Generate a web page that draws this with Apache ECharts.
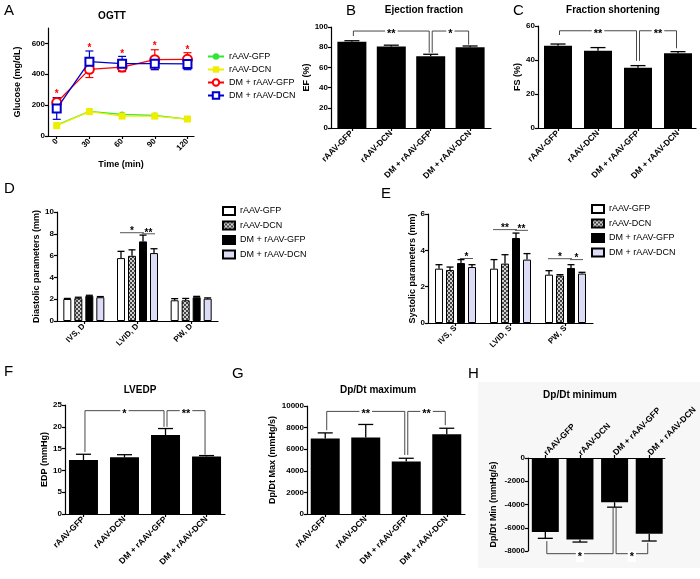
<!DOCTYPE html>
<html><head><meta charset="utf-8">
<script src="https://cdn.jsdelivr.net/npm/echarts@6/dist/echarts.min.js"></script>
<style>html,body{margin:0;padding:0;background:#fff}#c{width:700px;height:579px}</style>
</head><body><div id="c"></div>
<script>
// ---------------- DATA ----------------
const groups = ['rAAV-GFP', 'rAAV-DCN', 'DM + rAAV-GFP', 'DM + rAAV-DCN'];
// A: OGTT
const ogttTime = [0, 30, 60, 90, 120];
const ogttTicksY = [0, 200, 400, 600];
const ogttGfp = [70, 160, 140, 133, 110];
const ogttDcn = [67, 158, 129, 129, 110];
const ogttDmGfp = [217, 432, 447, 495, 497];
const ogttDmGfpSem = [32, 53, 30, 64, 43];
const ogttDmDcn = [178, 482, 469, 469, 467];
const ogttDmDcnSem = [70, 69, 47, 39, 37];
const ogttStarY = [292, 587, 551, 598, 576];
// B: Ejection fraction
const efMean = [85.5, 80.6, 71.1, 79.9];
const efSem = [0.9, 1.4, 1.9, 1.3];
const efBrackets = [[0, 2, 96, 91, 74.5], [2, 3, 96, 74.5, 82.5]];
const efBracketLabels = ['**', '*'];
// C: Fraction shortening
const fsMean = [48.4, 45.5, 35.5, 43.9];
const fsSem = [1.0, 1.8, 1.2, 1.0];
const fsBrackets = [[0, 2, 57.2, 54.7, 39.5], [2, 3, 57.2, 39.5, 46.9]];
const fsBracketLabels = ['**', '**'];
// D: Diastolic
const diaCats = ['IVS, D', 'LVID, D', 'PW, D'];
const diaMeans = [[2.02, 5.77, 1.90], [2.09, 5.98, 1.90], [2.30, 7.30, 2.18], [2.18, 6.23, 2.05]];
const diaSem = [[0.05, 0.62, 0.15], [0.09, 0.55, 0.17], [0.06, 0.58, 0.08], [0.06, 0.40, 0.07]];
const diaSig = [[1, 0, 2, 8.1], [1, 2, 3, 8.0]];
const diaSigLabels = ['*', '**'];
// E: Systolic
const sysCats = ['IVS, S', 'LVID, S', 'PW, S'];
const sysMeans = [[2.99, 2.99, 2.66], [2.92, 3.27, 2.61], [3.30, 4.68, 3.03], [3.08, 3.49, 2.72]];
const sysSem = [[0.22, 0.50, 0.22], [0.16, 0.49, 0.05], [0.19, 0.27, 0.18], [0.13, 0.33, 0.07]];
const sysSig = [[0, 2, 3, 3.55], [1, 0, 2, 5.14], [1, 2, 3, 5.1], [2, 0, 2, 3.54], [2, 2, 3, 3.49]];
const sysSigLabels = ['*', '**', '**', '*', '*'];
// F: LVEDP
const edpMean = [12.4, 13.0, 18.1, 13.2];
const edpSem = [1.3, 0.6, 1.5, 0.2];
const edpBrackets = [[0, 2, 23.7, 14.2, 20.0], [2, 3, 23.7, 20.0, 13.6]];
const edpBracketLabels = ['*', '**'];
// G: Dp/Dt max
const dpMaxMean = [6990, 7090, 4850, 7390];
const dpMaxSem = [520, 1200, 310, 550];
const dpMaxBrackets = [[0, 2, 9500, 7760, 5460], [2, 3, 9500, 5460, 8220]];
const dpMaxBracketLabels = ['**', '**'];
// H: Dp/Dt min
const dpMinMean = [-6370, -7000, -3800, -6510];
const dpMinSem = [540, 230, 430, 630];
const dpMinBrackets = [[0, 2, -8230, -7150, -4300], [2, 3, -8230, -4300, -7300]];
const dpMinBracketLabels = ['*', '*'];

// ---------------- STYLE / HELPERS ----------------
const FF = "Arial, 'Liberation Sans', sans-serif";
const axLine = { show: true, onZero: false, lineStyle: { color: '#000', width: 1.2 } };
const axTick = { show: true, length: 3, lineStyle: { color: '#000', width: 1.2 } };
const tickFont = { fontFamily: FF, fontWeight: 'bold', fontSize: 8, color: '#000' };
const catFont = { fontFamily: FF, fontWeight: 'bold', fontSize: 8.5, color: '#000' };
const nameFont = { fontFamily: FF, fontWeight: 'bold', fontSize: 9, color: '#000' };
const plainNum = v => String(v);

function yAx(grid, min, max, interval, name, nameGap) {
  return { type: 'value', gridIndex: grid, min, max, interval, name, nameLocation: 'middle', nameGap, nameRotate: 90,
    nameTextStyle: nameFont, axisLine: axLine, axisTick: axTick,
    axisLabel: Object.assign({ margin: 3, formatter: plainNum }, tickFont), splitLine: { show: false } };
}
function xGroupAx(grid, min, max, pos, rot) {
  const idx = groups.map((g, i) => i);
  return { type: 'value', gridIndex: grid, min, max, position: pos || 'bottom',
    axisLine: axLine,
    axisTick: Object.assign({ customValues: idx }, axTick),
    axisLabel: Object.assign({ customValues: idx, rotate: rot == null ? 45 : rot, margin: 4, formatter: v => groups[Math.round(v)] }, catFont),
    splitLine: { show: false } };
}
function xCatAx(grid, cats) {
  return { type: 'category', gridIndex: grid, data: cats, axisLine: axLine,
    axisTick: Object.assign({ alignWithLabel: true }, axTick),
    axisLabel: Object.assign({ rotate: 45, margin: 4 }, tickFont) };
}
function barSeries(ax, means, width) {
  return { type: 'bar', xAxisIndex: ax, yAxisIndex: ax, barWidth: width, silent: true,
    itemStyle: { color: '#000' }, data: means.map((v, i) => [i, v]), z: 2 };
}
function errSeries(ax, means, sems, cap) {
  return { type: 'custom', xAxisIndex: ax, yAxisIndex: ax, silent: true, z: 3, clip: false,
    data: means.map((m, i) => [i, m, m + Math.sign(m) * sems[i]]),
    renderItem: (p, api) => {
      const a = api.coord([api.value(0), api.value(1)]), b = api.coord([api.value(0), api.value(2)]);
      const st = { stroke: '#000', lineWidth: 1.3 };
      return { type: 'group', children: [
        { type: 'line', shape: { x1: a[0], y1: a[1], x2: b[0], y2: b[1] }, style: st },
        { type: 'line', shape: { x1: b[0] - cap / 2, y1: b[1], x2: b[0] + cap / 2, y2: b[1] }, style: st }] };
    } };
}
function bracketSeries(ax, list, labels, textDy) {
  return { type: 'custom', xAxisIndex: ax, yAxisIndex: ax, silent: true, z: 4, clip: false,
    data: list,
    renderItem: (p, api) => {
      const i = api.value(0), j = api.value(1), y = api.value(2);
      const p1 = api.coord([i, api.value(3)]), p2 = api.coord([i, y]), p3 = api.coord([j, y]), p4 = api.coord([j, api.value(4)]);
      p1[0] += 1.5; p2[0] += 1.5; p3[0] -= 1.5; p4[0] -= 1.5;
      return { type: 'group', children: [
        { type: 'polyline', shape: { points: [p1, p2, p3, p4] }, style: { stroke: '#333', lineWidth: 0.9, fill: null } },
        { type: 'text', x: (p2[0] + p3[0]) / 2, y: p2[1] + textDy,
          style: { text: labels[p.dataIndex], fill: '#000', font: 'bold 11px ' + FF, align: 'center', verticalAlign: 'middle',
            backgroundColor: '#fff', padding: [0, 2] } }] };
    } };
}
const STEP = 11; // grouped bar spacing (px)
function groupErrSeries(ax, means, sems) {
  const data = [];
  means.forEach((row, k) => row.forEach((m, c) => data.push([c, m, m + sems[k][c], k])));
  return { type: 'custom', xAxisIndex: ax, yAxisIndex: ax, silent: true, z: 3, data,
    renderItem: (p, api) => {
      const off = (api.value(3) - 1.5) * STEP;
      const a = api.coord([api.value(0), api.value(1)]), b = api.coord([api.value(0), api.value(2)]);
      const st = { stroke: '#000', lineWidth: 1.3 };
      return { type: 'group', children: [
        { type: 'line', shape: { x1: a[0] + off, y1: a[1], x2: b[0] + off, y2: b[1] }, style: st },
        { type: 'line', shape: { x1: b[0] + off - 3.5, y1: b[1], x2: b[0] + off + 3.5, y2: b[1] }, style: st }] };
    } };
}
function groupSigSeries(ax, list, labels) {
  return { type: 'custom', xAxisIndex: ax, yAxisIndex: ax, silent: true, z: 4, data: list,
    renderItem: (p, api) => {
      const a = api.coord([api.value(0), api.value(3)]);
      const x1 = a[0] + (api.value(1) - 1.5) * STEP, x2 = a[0] + (api.value(2) - 1.5) * STEP;
      return { type: 'group', children: [
        { type: 'line', shape: { x1: x1 - 1, y1: a[1], x2: x2 + 1, y2: a[1] }, style: { stroke: '#444', lineWidth: 0.9 } },
        { type: 'text', x: (x1 + x2) / 2, y: a[1] + 4, style: { text: labels[p.dataIndex], fill: '#000',
          font: 'bold 10px ' + FF, align: 'center', verticalAlign: 'bottom' } }] };
    } };
}
function makePattern() {
  const c = document.createElement('canvas'); c.width = 4; c.height = 4;
  const g = c.getContext('2d');
  g.fillStyle = '#d0d0d0'; g.fillRect(0, 0, 4, 4);
  g.fillStyle = '#444444'; g.fillRect(0, 0, 2, 2); g.fillRect(2, 2, 2, 2);
  return c;
}
const groupFills = ['#ffffff', { image: makePattern(), repeat: 'repeat' }, '#000000', '#dcdcf6'];
function groupBars(ax, prefix, means) {
  return means.map((row, k) => ({ type: 'bar', name: prefix + '|' + groups[k], xAxisIndex: ax, yAxisIndex: ax,
    barWidth: 8, barGap: '37.5%', silent: true, data: row,
    itemStyle: { color: groupFills[k], borderColor: '#000', borderWidth: 1 } }));
}

// ---------------- OPTION ----------------
const chart = echarts.init(document.getElementById('c'), null, { renderer: 'canvas' });
const aColors = ['#33e633', '#eeee00', '#ff0000', '#0000cc'];
const aSymbols = ['circle', 'rect', 'emptyCircle', 'emptyRect'];
const aSizes = [6, 7, 9, 8];
const aData = [ogttGfp, ogttDcn, ogttDmGfp, ogttDmDcn];

function aErr(means, sems, color) {
  return { type: 'custom', xAxisIndex: 0, yAxisIndex: 0, silent: true, z: 3,
    data: ogttTime.map((t, i) => [t, means[i] - sems[i], means[i] + sems[i]]),
    renderItem: (p, api) => {
      const a = api.coord([api.value(0), api.value(1)]), b = api.coord([api.value(0), api.value(2)]);
      const st = { stroke: color, lineWidth: 1.2 };
      return { type: 'group', children: [
        { type: 'line', shape: { x1: a[0], y1: a[1], x2: b[0], y2: b[1] }, style: st },
        { type: 'line', shape: { x1: a[0] - 4, y1: a[1], x2: a[0] + 4, y2: a[1] }, style: st },
        { type: 'line', shape: { x1: b[0] - 4, y1: b[1], x2: b[0] + 4, y2: b[1] }, style: st }] };
    } };
}

const series = [];
[1, 0, 2, 3].forEach(k => series.push({
  type: 'line', name: 'A|' + groups[k], xAxisIndex: 0, yAxisIndex: 0, silent: true,
  data: ogttTime.map((t, i) => [t, aData[k][i]]), symbol: aSymbols[k], symbolSize: aSizes[k],
  color: aColors[k], lineStyle: { width: 1.3, color: aColors[k] },
  itemStyle: { color: aColors[k], borderColor: aColors[k], borderWidth: k > 1 ? 1.5 : 0 }, z: 5 + k }));
series.push(aErr(ogttDmGfp, ogttDmGfpSem, aColors[2]));
series.push(aErr(ogttDmDcn, ogttDmDcnSem, aColors[3]));
series.push({ type: 'custom', xAxisIndex: 0, yAxisIndex: 0, silent: true, z: 9,
  data: ogttTime.map((t, i) => [t, ogttStarY[i]]),
  renderItem: (p, api) => { const a = api.coord([api.value(0), api.value(1)]);
    return { type: 'text', x: a[0], y: a[1] + 3, style: { text: '*', fill: '#ff0000', font: 'bold 10px ' + FF, align: 'center', verticalAlign: 'middle' } }; } });

// B, C, F, G, H
series.push(barSeries(1, efMean, 29), errSeries(1, efMean, efSem, 15), bracketSeries(1, efBrackets, efBracketLabels, 3));
series.push(barSeries(2, fsMean, 28), errSeries(2, fsMean, fsSem, 15), bracketSeries(2, fsBrackets, fsBracketLabels, 3));
series.push(barSeries(5, edpMean, 29), errSeries(5, edpMean, edpSem, 15), bracketSeries(5, edpBrackets, edpBracketLabels, 3));
series.push(barSeries(6, dpMaxMean, 29), errSeries(6, dpMaxMean, dpMaxSem, 15), bracketSeries(6, dpMaxBrackets, dpMaxBracketLabels, 3));
series.push(barSeries(7, dpMinMean, 27), errSeries(7, dpMinMean, dpMinSem, 15), bracketSeries(7, dpMinBrackets, dpMinBracketLabels, 3));
// D, E
series.push(...groupBars(3, 'D', diaMeans), groupErrSeries(3, diaMeans, diaSem), groupSigSeries(3, diaSig, diaSigLabels));
series.push(...groupBars(4, 'E', sysMeans), groupErrSeries(4, sysMeans, sysSem), groupSigSeries(4, sysSig, sysSigLabels));

const legendBase = { orient: 'vertical', padding: 0, textStyle: { fontFamily: FF, fontSize: 9, color: '#000' },
  formatter: n => n.split('|')[1], selectedMode: false };

function txt(text, x, y, font, align) {
  return { type: 'text', x, y, silent: true, style: { text, font, fill: '#000', align: align || 'left', textAlign: align || 'left', verticalAlign: 'top' } };
}
const titleFont = 'bold 10px ' + FF, letterFont = '15px ' + FF;

chart.setOption({
  animation: false,
  backgroundColor: '#fff',
  grid: [
    { left: 48, top: 28, width: 146, height: 108 },   // A
    { left: 331, top: 27, width: 160, height: 101 },  // B
    { left: 538, top: 26, width: 158, height: 102 },  // C
    { left: 57, top: 212, width: 161, height: 109 },  // D
    { left: 428, top: 214, width: 165, height: 109 }, // E
    { left: 65, top: 405, width: 160, height: 109 },  // F
    { left: 307, top: 406, width: 158, height: 108 }, // G
    { left: 528, top: 458, width: 150, height: 93 }   // H
  ],
  xAxis: [
    { type: 'value', gridIndex: 0, min: -8, max: 126, name: 'Time (min)', nameLocation: 'middle', nameGap: 24, nameTextStyle: nameFont,
      axisLine: axLine, axisTick: Object.assign({ customValues: ogttTime }, axTick),
      axisLabel: Object.assign({ customValues: ogttTime, rotate: 45, margin: 4 }, tickFont), splitLine: { show: false } },
    xGroupAx(1, -0.53, 3.53),
    xGroupAx(2, -0.5, 3.45),
    xCatAx(3, diaCats),
    xCatAx(4, sysCats),
    xGroupAx(5, -0.45, 3.45),
    xGroupAx(6, -0.45, 3.45),
    xGroupAx(7, -0.5, 3.45, 'top', -45)
  ],
  yAxis: [
    Object.assign(yAx(0, 0, 700, null, 'Glucose (mg/dL)', 26), { axisLabel: Object.assign({ margin: 3, customValues: ogttTicksY, formatter: plainNum }, tickFont), axisTick: Object.assign({ customValues: ogttTicksY }, axTick) }),
    yAx(1, 0, 100, 20, 'EF (%)', 17),
    yAx(2, 0, 60, 20, 'FS (%)', 14),
    yAx(3, 0, 10, 2, 'Diastolic parameters (mm)', 15),
    yAx(4, 0, 6, 2, 'Systolic parameters (mm)', 11),
    yAx(5, 0, 25, 5, 'EDP (mmHg)', 16),
    yAx(6, 0, 10000, 2000, 'Dp/Dt Max (mmHg/s)', 30),
    yAx(7, -8000, 0, 2000, 'Dp/Dt Min (mmHg/s)', 30)
  ],
  legend: [
    Object.assign({ left: 207, top: 52, itemWidth: 16, itemHeight: 8, itemGap: 4, data: groups.map(g => 'A|' + g) }, legendBase),
    Object.assign({ left: 222, top: 206, itemWidth: 12, itemHeight: 8, itemGap: 4.5, icon: 'rect', data: groups.map(g => 'D|' + g) }, legendBase),
    Object.assign({ left: 591, top: 204, itemWidth: 12, itemHeight: 8, itemGap: 4.5, icon: 'rect', data: groups.map(g => 'E|' + g) }, legendBase)
  ],
  graphic: [
    { type: 'rect', silent: true, z: -10, shape: { x: 478, y: 382, width: 222, height: 186 }, style: { fill: '#f7f7f7' } },
    txt('A', 4, 3, letterFont), txt('B', 346, 3, letterFont), txt('C', 513, 3, letterFont),
    txt('D', 4, 181, letterFont), txt('E', 381, 186, letterFont),
    txt('F', 4, 364, letterFont), txt('G', 232, 366, letterFont), txt('H', 468, 366, letterFont),
    txt('OGTT', 112, 11, titleFont, 'center'),
    txt('Ejection fraction', 424, 5, titleFont, 'center'),
    txt('Fraction shortening', 613, 5, titleFont, 'center'),
    txt('LVEDP', 140, 385, titleFont, 'center'),
    txt('Dp/Dt maximum', 378, 385, titleFont, 'center'),
    txt('Dp/Dt minimum', 580, 390, titleFont, 'center')
  ],
  series
});
</script></body></html>
